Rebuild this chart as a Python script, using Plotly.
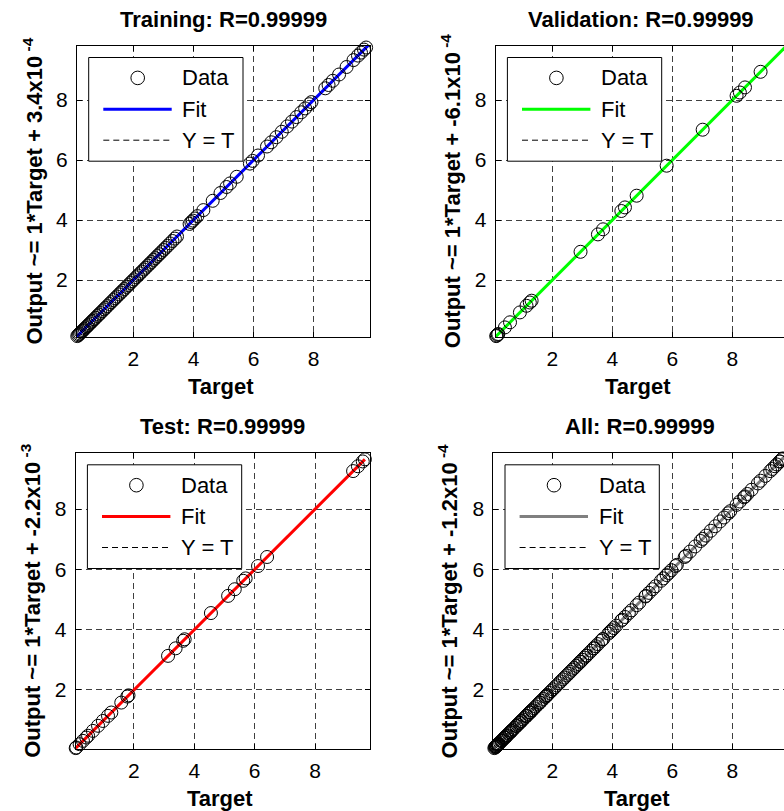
import plotly.graph_objects as go

# ---------------- data ----------------
panel_names = ["Training", "Validation", "Test", "All"]
r_values = [0.99999, 0.99999, 0.99999, 0.99999]
fit_slopes = [1, 1, 1, 1]
fit_intercept_mantissa = [3.4, -6.1, -2.2, -1.2]
fit_intercept_exponent = [-4, -4, -3, -4]

train_target = [0.11, 0.13, 0.16, 0.19, 0.22, 0.26, 0.30, 0.33, 0.37, 0.42, 0.46, 0.50,
                0.55, 0.60, 0.64, 0.69, 0.74, 0.80, 0.85, 0.90, 0.96, 1.02, 1.07, 1.13,
                1.20, 1.26, 1.33, 1.39, 1.45, 1.52, 1.58, 1.64, 1.70, 1.77, 1.83, 1.90,
                1.96, 2.02, 2.09, 2.15, 2.22, 2.28, 2.35, 2.41, 2.48, 2.54, 2.60, 2.67,
                2.73, 2.80, 2.86, 2.93, 3.00, 3.07, 3.14, 3.22, 3.30, 3.38, 3.45,
                3.87, 3.93, 3.98, 4.05, 4.13, 4.33, 4.64, 4.90, 5.10, 5.22, 5.44,
                5.88, 5.97, 6.15, 6.45, 6.59, 6.76, 6.94, 7.12, 7.28, 7.43, 7.59, 7.72,
                7.86, 7.93, 8.39, 8.50, 8.64, 8.85, 9.10, 9.33, 9.48, 9.58, 9.68, 9.75, 9.83]
train_output = [0.11, 0.13, 0.16, 0.19, 0.22, 0.26, 0.30, 0.33, 0.37, 0.42, 0.46, 0.50,
                0.55, 0.60, 0.64, 0.69, 0.74, 0.80, 0.85, 0.90, 0.96, 1.02, 1.07, 1.13,
                1.20, 1.26, 1.33, 1.39, 1.45, 1.52, 1.58, 1.64, 1.70, 1.77, 1.83, 1.90,
                1.96, 2.02, 2.09, 2.15, 2.22, 2.28, 2.35, 2.41, 2.48, 2.54, 2.60, 2.67,
                2.73, 2.80, 2.86, 2.93, 3.00, 3.07, 3.14, 3.22, 3.30, 3.38, 3.45,
                3.87, 3.93, 3.98, 4.05, 4.13, 4.33, 4.64, 4.90, 5.10, 5.22, 5.44,
                5.88, 5.97, 6.15, 6.45, 6.59, 6.76, 6.94, 7.12, 7.28, 7.43, 7.59, 7.72,
                7.86, 7.93, 8.39, 8.50, 8.64, 8.85, 9.10, 9.33, 9.48, 9.58, 9.68, 9.75, 9.83]

val_target = [0.11, 0.13, 0.15, 0.18, 0.20, 0.42, 0.59, 0.92, 1.14, 1.25, 1.31, 2.94,
              3.52, 3.69, 4.30, 4.42, 4.81, 5.81, 7.01, 8.14, 8.25, 8.42, 8.94, 9.83]
val_output = [0.11, 0.13, 0.15, 0.18, 0.20, 0.42, 0.59, 0.92, 1.14, 1.25, 1.31, 2.94,
              3.52, 3.69, 4.30, 4.42, 4.81, 5.81, 7.01, 8.14, 8.25, 8.42, 8.94, 9.83]

test_target = [0.07, 0.09, 0.20, 0.31, 0.42, 0.48, 0.64, 0.81, 0.97, 1.14, 1.25, 1.58,
               1.78, 1.82, 3.13, 3.38, 3.63, 3.68, 4.55, 5.12, 5.34, 5.62, 5.70, 6.11,
               6.41, 9.26, 9.42, 9.58, 9.65]
test_output = [0.07, 0.09, 0.20, 0.31, 0.42, 0.48, 0.64, 0.81, 0.97, 1.14, 1.25, 1.58,
               1.78, 1.82, 3.13, 3.38, 3.63, 3.68, 4.55, 5.12, 5.34, 5.62, 5.70, 6.11,
               6.41, 9.26, 9.42, 9.58, 9.65]

all_target = train_target + val_target + test_target
all_output = train_output + val_output + test_output

tick_values = [2, 4, 6, 8]
tick_labels = ["2", "4", "6", "8"]

# ---------------- layout / style ----------------
W, H = 784, 811
FONT = "Liberation Sans, Arial, sans-serif"
fit_colors = ["#0000ff", "#00ff00", "#ff0000", "#808080"]

targets = [train_target, val_target, test_target, all_target]
outputs = [train_output, val_output, test_output, all_output]

# axis boxes in pixels: left, right (visible), top, bottom ; plus full right for centering
boxes = [
    dict(l=77.0, r=370.0, t=46.0, b=337.0, full_r=370.0),
    dict(l=495.7, r=784.0, t=46.0, b=337.0, full_r=786.0),
    dict(l=75.7, r=370.0, t=453.3, b=749.0, full_r=370.0),
    dict(l=493.3, r=784.0, t=453.3, b=749.0, full_r=786.0),
]
xranges = [[0.12, 9.88], [0.113, 9.72], [0.07, 9.82], [0.034, 9.72]]
yranges = [[0.10, 9.80], [0.10, 9.80], [0.04, 9.85], [0.04, 9.85]]


def px(x):
    return x / W


def py(y):
    return 1 - y / H


fig = go.Figure()
layout = dict(
    width=W, height=H, autosize=False,
    margin=dict(l=0, r=0, t=0, b=0, pad=0),
    paper_bgcolor="white", plot_bgcolor="white",
    showlegend=False,
    font=dict(family=FONT, size=21, color="black"),
)
annotations = []
shapes = []

for i in range(4):
    sfx = "" if i == 0 else str(i + 1)
    xa, ya = "x" + sfx, "y" + sfx
    b = boxes[i]
    t = targets[i]
    o = outputs[i]
    lo = min(min(t), min(o))
    hi = max(max(t), max(o))
    lim = [lo, hi]
    m = fit_slopes[i]
    c = fit_intercept_mantissa[i] * 10 ** fit_intercept_exponent[i]

    # Y = T
    fig.add_trace(go.Scatter(x=lim, y=lim, mode="lines", xaxis=xa, yaxis=ya,
                             line=dict(color="black", width=1, dash="6px,4px"),
                             name="Y = T", hoverinfo="skip"))
    # Fit
    fig.add_trace(go.Scatter(x=lim, y=[m * v + c for v in lim], mode="lines",
                             xaxis=xa, yaxis=ya,
                             line=dict(color=fit_colors[i], width=3), name="Fit"))
    # Data
    fig.add_trace(go.Scatter(x=t, y=o, mode="markers", xaxis=xa, yaxis=ya,
                             cliponaxis=False, name="Data",
                             marker=dict(symbol="circle-open", size=13, color="black",
                                         line=dict(width=1, color="black"))))

    right_side = i in (1, 3)
    layout["xaxis" + sfx] = dict(
        domain=[px(b["l"]), min(1.0, px(b["r"]))], range=xranges[i], anchor=ya,
        tickvals=tick_values, ticktext=tick_labels, ticks="inside", ticklen=5,
        tickcolor="black", showline=True, linecolor="black", linewidth=1,
        mirror="ticks", showgrid=True, gridcolor="#404040", gridwidth=1,
        griddash="6px,4px", zeroline=False, ticklabelstandoff=3,
        tickfont=dict(family=FONT, size=21, color="black"),
    )
    layout["yaxis" + sfx] = dict(
        domain=[py(b["b"]), py(b["t"])], range=yranges[i], anchor=xa,
        tickvals=tick_values, ticktext=tick_labels, ticks="inside", ticklen=5,
        tickcolor="black", showline=True, linecolor="black", linewidth=1,
        mirror=False if right_side else "ticks", showgrid=True, gridcolor="#404040",
        gridwidth=1, griddash="6px,4px", zeroline=False, ticklabelstandoff=4,
        tickfont=dict(family=FONT, size=21, color="black"),
    )

    cx = (b["l"] + b["full_r"]) / 2
    cy = (b["t"] + b["b"]) / 2
    # title
    annotations.append(dict(
        text="<b>%s: R=%.5f</b>" % (panel_names[i], r_values[i]),
        x=px(cx), y=py(b["t"] - 27), xref="paper", yref="paper",
        xanchor="center", yanchor="middle", showarrow=False,
        font=dict(family=FONT, size=22, color="black")))
    # x label
    annotations.append(dict(
        text="<b>Target</b>", x=px(cx - 3), y=py(b["b"] + 49), xref="paper", yref="paper",
        xanchor="center", yanchor="middle", showarrow=False,
        font=dict(family=FONT, size=22, color="black")))
    # y label
    annotations.append(dict(
        text="<b>Output ~= %g*Target + %.1fx10<sup> %d</sup></b>" % (
            fit_slopes[i], fit_intercept_mantissa[i], fit_intercept_exponent[i]),
        x=px(b["l"] - 45), y=py(cy), xref="paper", yref="paper", textangle=-90,
        xanchor="center", yanchor="middle", showarrow=False,
        font=dict(family=FONT, size=22, color="black")))

    # legend (drawn like the MATLAB legend box)
    L = b["l"] + 11.7
    T = b["t"] + 11.5
    shapes.append(dict(type="rect", xref="paper", yref="paper",
                       x0=px(L), x1=px(L + 154.3), y0=py(T), y1=py(T + 103.7),
                       line=dict(color="black", width=1), fillcolor="white", layer="above"))
    rc = 6.8
    shapes.append(dict(type="circle", xref="paper", yref="paper",
                       x0=px(L + 49 - rc), x1=px(L + 49 + rc),
                       y0=py(T + 20.4 - rc), y1=py(T + 20.4 + rc),
                       line=dict(color="black", width=1), layer="above"))
    shapes.append(dict(type="line", xref="paper", yref="paper",
                       x0=px(L + 14.6), x1=px(L + 83), y0=py(T + 51.7), y1=py(T + 51.7),
                       line=dict(color=fit_colors[i], width=3), layer="above"))
    shapes.append(dict(type="line", xref="paper", yref="paper",
                       x0=px(L + 14.6), x1=px(L + 83), y0=py(T + 82.7), y1=py(T + 82.7),
                       line=dict(color="black", width=1, dash="6px,4px"), layer="above"))
    for txt, dy in (("Data", 20.4), ("Fit", 51.7), ("Y = T", 82.7)):
        annotations.append(dict(
            text=txt, x=px(L + 91.6), y=py(T + dy), xref="paper", yref="paper",
            xanchor="left", yanchor="middle", showarrow=False,
            font=dict(family=FONT, size=22, color="black")))

layout["annotations"] = annotations
layout["shapes"] = shapes
fig.update_layout(**layout)
fig.write_html("out.html")
